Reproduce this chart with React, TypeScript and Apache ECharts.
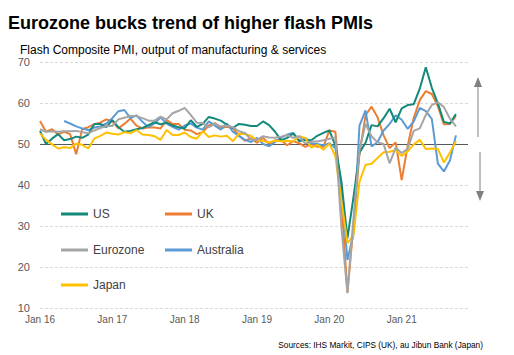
import React, { useEffect, useRef } from "react";
import * as echarts from "echarts";

const MONTHS = ["Jan","Feb","Mar","Apr","May","Jun","Jul","Aug","Sep","Oct","Nov","Dec"];
const YEARS = ["16","17","18","19","20","21"];
const categories: string[] = [];
YEARS.forEach((y) => MONTHS.forEach((m) => categories.push(`${m} ${y}`)));

const seriesNames = ["US", "UK", "Eurozone", "Australia", "Japan"];

const us = [
  53.2, 50.0, 51.3, 52.4, 50.9, 51.2, 51.8, 51.5, 52.3, 54.9, 54.9, 54.1,
  55.8, 54.1, 53.0, 53.2, 53.6, 53.9, 54.6, 55.3, 54.8, 55.2, 54.5, 54.1,
  53.8, 55.8, 54.2, 54.9, 56.6, 56.2, 55.7, 54.7, 53.9, 54.9, 54.7, 54.4,
  54.4, 55.5, 54.6, 53.0, 50.9, 51.5, 52.6, 50.7, 51.0, 50.9, 52.0, 52.7,
  53.3, 49.6, 40.9, 27.0, 37.0, 47.9, 50.3, 54.6, 54.3, 56.3, 58.6, 55.3,
  58.7, 59.5, 59.7, 63.5, 68.7, 63.7, 59.9, 55.4, 55.0, 57.3,
];

const uk = [
  55.6, 53.0, 53.6, 52.3, 53.0, 52.4, 47.5, 53.6, 54.1, 54.8, 55.2, 56.0,
  55.5, 53.8, 54.9, 56.2, 54.5, 53.8, 54.1, 54.0, 53.8, 55.8, 54.9, 54.9,
  53.5, 53.3, 52.4, 52.9, 54.5, 55.1, 53.9, 54.2, 53.9, 52.1, 50.8, 51.4,
  50.3, 51.5, 50.0, 50.9, 50.9, 49.7, 50.7, 50.2, 49.3, 50.0, 49.3, 49.3,
  53.3, 53.0, 36.0, 13.8, 30.0, 47.7, 57.0, 59.1, 56.5, 52.1, 49.0, 50.4,
  41.2, 49.6, 56.4, 60.7, 62.9, 62.2, 59.2, 54.8, 54.9, 56.8,
];

const eurozone = [
  53.6, 53.0, 53.1, 53.0, 53.1, 53.1, 53.2, 52.9, 52.6, 53.3, 53.9, 54.4,
  54.4, 56.0, 56.4, 56.8, 56.8, 56.3, 55.7, 55.7, 56.7, 56.0, 57.5, 58.1,
  58.8, 57.1, 55.2, 55.1, 54.1, 54.9, 54.3, 54.5, 54.1, 53.1, 52.7, 51.1,
  51.0, 51.9, 51.6, 51.5, 51.8, 52.2, 51.5, 51.9, 50.1, 50.6, 50.6, 50.9,
  51.3, 51.6, 29.7, 13.6, 31.9, 48.5, 54.9, 51.9, 50.4, 50.0, 45.3, 49.1,
  47.8, 48.8, 53.2, 53.8, 57.1, 59.5, 60.2, 59.0, 56.2, 54.3,
];

const australia = [
  null, null, null, null, 55.6, 55.0, 54.3, 53.8, 53.4, 54.0, 54.3, 55.0,
  56.3, 58.0, 58.3, 56.3, 57.0, 55.4, 54.1, 55.0, 56.5, 55.0, 54.2, 53.5,
  54.5, 55.0, 54.0, 53.5, 55.5, 54.5, 53.5, 55.0, 53.0, 52.0, 51.0, 50.5,
  51.5, 50.0, 49.5, 50.5, 51.5, 52.3, 52.7, 50.8, 51.5, 50.2, 50.0, 49.6,
  50.2, 49.0, 39.4, 21.7, 28.1, 54.5, 58.2, 49.4, 50.5, 53.3, 54.9, 57.0,
  55.9, 53.7, 55.5, 58.8, 58.0, 56.1, 45.2, 43.3, 46.0, 52.1,
];

const japan = [
  52.6, 51.0, 49.9, 48.9, 49.2, 49.0, 50.1, 49.8, 48.9, 51.3, 52.0, 52.8,
  52.5, 52.3, 52.9, 52.6, 53.4, 52.3, 52.2, 51.9, 51.0, 53.4, 52.2, 52.2,
  52.8, 51.7, 51.3, 53.1, 51.7, 52.1, 51.8, 52.0, 50.7, 52.5, 52.4, 52.0,
  50.9, 50.7, 50.4, 50.8, 50.7, 50.8, 50.6, 51.9, 51.5, 49.1, 49.8, 48.6,
  50.1, 47.0, 36.2, 25.8, 27.8, 40.8, 44.9, 45.2, 46.6, 48.0, 48.1, 48.5,
  47.1, 48.2, 49.9, 51.0, 48.8, 48.9, 48.8, 45.5, 47.9, 50.7,
];

const seriesData = [us, uk, eurozone, australia, japan];
const colors = ["#12897a", "#ed7d31", "#a5a5a5", "#5b9bd5", "#ffc000"];
const drawOrder = [1, 3, 0, 4, 2];

const FONT = "'Liberation Sans', Arial, sans-serif";

export default function App() {
  const ref = useRef<HTMLDivElement>(null);
  useEffect(() => {
    if (!ref.current) return;
    const chart = echarts.init(ref.current, undefined, { renderer: "svg" });
    const legendPos = [
      { left: 56, top: 203 },
      { left: 160, top: 203 },
      { left: 56, top: 239 },
      { left: 160, top: 239 },
      { left: 56, top: 274 },
    ];
    const option: any = {
      animation: false,
      textStyle: { fontFamily: FONT },
      title: [
        {
          text: "Eurozone bucks trend of higher flash PMIs",
          left: 3,
          top: 9,
          textStyle: { fontSize: 18, fontWeight: "bold", color: "#000", fontFamily: FONT },
        },
        {
          text: "Flash Composite PMI, output of manufacturing & services",
          left: 15,
          top: 39,
          textStyle: { fontSize: 12, fontWeight: "normal", color: "#000", fontFamily: FONT },
        },
        {
          text: "Sources: IHS Markit, CIPS (UK), au Jibun Bank (Japan)",
          right: 26,
          top: 336,
          textStyle: { fontSize: 8.3, fontWeight: "normal", color: "#000", fontFamily: FONT },
        },
      ],
      legend: seriesNames.map((name, i) => ({
        data: [name],
        left: legendPos[i].left,
        top: legendPos[i].top,
        icon: "rect",
        itemWidth: 27,
        itemHeight: 3,
        textStyle: { fontSize: 12, color: "#404040", fontFamily: FONT },
        selectedMode: false,
      })),
      grid: { left: 40, right: 46, top: 62, bottom: 47, containLabel: false },
      xAxis: {
        type: "category",
        data: categories,
        boundaryGap: false,
        axisLine: { show: false },
        axisTick: { show: false },
        axisLabel: { interval: 11, fontSize: 10, color: "#595959", margin: 6, fontFamily: FONT },
        splitLine: { show: false },
      },
      yAxis: {
        type: "value",
        min: 10,
        max: 70,
        interval: 10,
        axisLine: { show: false },
        axisTick: { show: false },
        axisLabel: { fontSize: 11, color: "#595959", margin: 10, fontFamily: FONT },
        splitLine: { lineStyle: { color: "#d9d9d9", type: [3, 2], width: 1 } },
      },
      series: drawOrder.map((i, k) => ({
        name: seriesNames[i],
        type: "line",
        data: seriesData[i],
        symbol: "none",
        z: 2 + k,
        lineStyle: { width: 2, color: colors[i] },
        itemStyle: { color: colors[i] },
        markLine:
          k === 0
            ? {
                silent: true,
                symbol: ["none", "none"],
                label: { show: false },
                lineStyle: { color: "#595959", type: "solid", width: 1 },
                data: [{ yAxis: 50 }],
                z: 1,
              }
            : undefined,
      })),
      graphic: [
        { type: "line", shape: { x1: 478, y1: 137, x2: 478, y2: 84 }, style: { stroke: "#808080", lineWidth: 1 } },
        { type: "polygon", shape: { points: [[478, 77], [474, 87], [482, 87]] }, style: { fill: "#808080" } },
        { type: "line", shape: { x1: 480, y1: 152, x2: 480, y2: 193 }, style: { stroke: "#808080", lineWidth: 1 } },
        { type: "polygon", shape: { points: [[480, 201], [476, 191], [484, 191]] }, style: { fill: "#808080" } },
      ],
    };
    chart.setOption(option);
    return () => chart.dispose();
  }, []);
  return <div ref={ref} style={{ width: 514, height: 355, position: "absolute", left: 0, top: 0, background: "#fff" }} />;
}
